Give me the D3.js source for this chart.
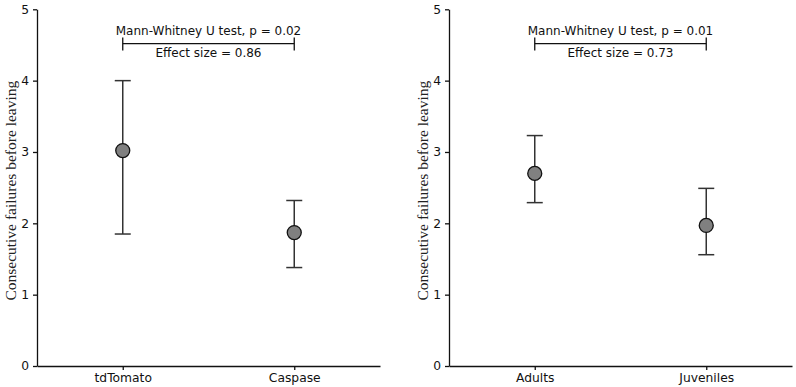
<!DOCTYPE html>
<html>
<head>
<meta charset="utf-8">
<script src="https://cdn.jsdelivr.net/npm/d3@7"></script>
<style>
  body { margin: 0; background: #fff; }
  svg text { font-family: "DejaVu Sans", sans-serif; }
</style>
</head>
<body>
<div id="chart"></div>
<script>
// Panel data (means with error bars)
const leftGroups = ["tdTomato", "Caspase"];
const leftMeans = [3.02, 1.87];
const leftLower = [1.85, 1.38];
const leftUpper = [4.0, 2.32];
const leftStats = ["Mann-Whitney U test, p = 0.02", "Effect size = 0.86"];

const rightGroups = ["Adults", "Juveniles"];
const rightMeans = [2.70, 1.97];
const rightLower = [2.29, 1.56];
const rightUpper = [3.23, 2.49];
const rightStats = ["Mann-Whitney U test, p = 0.01", "Effect size = 0.73"];

const yTicks = [0, 1, 2, 3, 4, 5];
const yLabel = "Consecutive failures before leaving";
const bracketLevel = 4.52;

const width = 796;
const height = 387;

const svg = d3.select("#chart")
    .append("svg")
    .attr("width", width)
    .attr("height", height);

function drawPanel(left, groups, means, lower, upper, stats) {
    const top = 9.3, bottom = 366;
    const plotW = 343;

    const g = svg.append("g");

    const x = d3.scalePoint()
        .domain(groups)
        .range([left, left + plotW])
        .padding(0.5);

    const y = d3.scaleLinear()
        .domain([0, 5])
        .range([bottom, top]);

    // axes
    const yAxis = g.append("g")
        .attr("transform", `translate(${left},0)`)
        .call(d3.axisLeft(y).tickValues(yTicks).tickFormat(d3.format("d"))
            .tickSize(4).tickPadding(4).tickSizeOuter(0));
    const xAxis = g.append("g")
        .attr("transform", `translate(0,${bottom})`)
        .call(d3.axisBottom(x).tickSize(4).tickPadding(3).tickSizeOuter(0));

    [yAxis, xAxis].forEach(a => {
        a.selectAll("path, line").attr("stroke", "#111").attr("stroke-width", 1.3);
        a.selectAll("text").attr("font-size", 12.3).attr("fill", "#111")
            .style("font-family", "'DejaVu Sans', sans-serif");
    });

    // y label
    g.append("text")
        .attr("transform", `translate(${left - 21},${(top + bottom) / 2 + 3}) rotate(-90)`)
        .attr("text-anchor", "middle")
        .attr("font-size", 15.5)
        .style("font-family", "'Liberation Serif', serif")
        .attr("fill", "#222")
        .text(yLabel);

    // error bars
    const cap = 8;
    const bars = g.append("g")
        .selectAll("g")
        .data(groups)
        .enter()
        .append("g")
        .attr("stroke", "#333")
        .attr("stroke-width", 1.5);
    bars.append("line")
        .attr("x1", d => x(d)).attr("x2", d => x(d))
        .attr("y1", (d, i) => y(lower[i])).attr("y2", (d, i) => y(upper[i]));
    bars.append("line")
        .attr("x1", d => x(d) - cap).attr("x2", d => x(d) + cap)
        .attr("y1", (d, i) => y(upper[i])).attr("y2", (d, i) => y(upper[i]));
    bars.append("line")
        .attr("x1", d => x(d) - cap).attr("x2", d => x(d) + cap)
        .attr("y1", (d, i) => y(lower[i])).attr("y2", (d, i) => y(lower[i]));

    // mean markers
    g.append("g")
        .selectAll("circle")
        .data(groups)
        .enter()
        .append("circle")
        .attr("cx", d => x(d))
        .attr("cy", (d, i) => y(means[i]))
        .attr("r", 7)
        .attr("fill", "#808080")
        .attr("stroke", "#111")
        .attr("stroke-width", 1.3);

    // significance bracket
    const x0 = x(groups[0]), x1 = x(groups[1]);
    const by = y(bracketLevel);
    const br = g.append("g").attr("stroke", "#111").attr("stroke-width", 1.3);
    br.append("line").attr("x1", x0).attr("x2", x1).attr("y1", by).attr("y2", by);
    br.append("line").attr("x1", x0).attr("x2", x0).attr("y1", by - 6).attr("y2", by + 7);
    br.append("line").attr("x1", x1).attr("x2", x1).attr("y1", by - 6).attr("y2", by + 7);

    g.append("text")
        .attr("x", (x0 + x1) / 2)
        .attr("y", by - 9)
        .attr("text-anchor", "middle")
        .attr("font-size", 12)
        .attr("fill", "#111")
        .text(stats[0]);
    g.append("text")
        .attr("x", (x0 + x1) / 2)
        .attr("y", by + 13)
        .attr("text-anchor", "middle")
        .attr("font-size", 12)
        .attr("fill", "#111")
        .text(stats[1]);
}

drawPanel(37, leftGroups, leftMeans, leftLower, leftUpper, leftStats);
drawPanel(449, rightGroups, rightMeans, rightLower, rightUpper, rightStats);
</script>
</body>
</html>
